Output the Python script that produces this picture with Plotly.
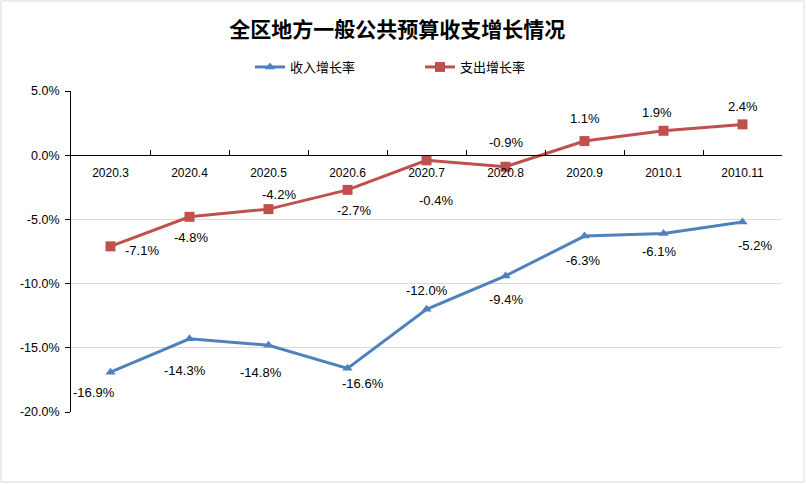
import plotly.graph_objects as go

categories = ["2020.3", "2020.4", "2020.5", "2020.6", "2020.7", "2020.8", "2020.9", "2010.1", "2010.11"]
income = [-16.9, -14.3, -14.8, -16.6, -12.0, -9.4, -6.3, -6.1, -5.2]
expense = [-7.1, -4.8, -4.2, -2.7, -0.4, -0.9, 1.1, 1.9, 2.4]
y_ticks = [5, 0, -5, -10, -15, -20]

# label offsets in pixels (dx right, dy down) – styling only
income_off = [(-17, 20), (-5, 32), (-8, 27), (15, 15), (0, -19), (0, 24), (-2, 24), (-5, 18), (12, 24)]
expense_off = [(31, 4), (1, 21), (10, -15), (6, 21), (9, 40), (0, -24), (0, -23), (-7, -18), (0, -18)]

W, H = 806, 484
L, R, T, B = 71, 24, 91, 72
pw, ph = W - L - R, H - T - B

def px_x(p):
    return (p - L) / pw

def px_y(p):
    return (H - B - p) / ph

label_font = dict(family="Liberation Sans, Arial, sans-serif", size=13, color="#000000")

fig = go.Figure()
fig.add_trace(go.Scatter(
    x=categories, y=income, name="收入增长率", mode="lines+markers",
    line=dict(color="#4F81BD", width=3),
    marker=dict(symbol="triangle-up", size=9, color="#4F81BD"),
    cliponaxis=False,
))
fig.add_trace(go.Scatter(
    x=categories, y=expense, name="支出增长率", mode="lines+markers",
    line=dict(color="#C0504D", width=3),
    marker=dict(symbol="square", size=10, color="#C0504D"),
    cliponaxis=False,
))

# category axis: annotation x given as the category's serial index
for series, offs in ((income, income_off), (expense, expense_off)):
    for i, (v, (dx, dy)) in enumerate(zip(series, offs)):
        fig.add_annotation(x=i, y=v, xref="x", yref="y", text=f"{v:.1f}%", showarrow=False,
                           xshift=dx, yshift=-dy, font=label_font,
                           xanchor="center", yanchor="middle")

fig.update_layout(
    width=W, height=H,
    margin=dict(l=L, r=R, t=T, b=B),
    paper_bgcolor="white", plot_bgcolor="white",
    title=dict(text="<b>全区地方一般公共预算收支增长情况</b>", x=0.493, xanchor="center",
               y=1 - 30 / H, yanchor="middle",
               font=dict(family="Noto Sans CJK SC", size=21, color="#000000")),
    legend=dict(orientation="h", x=px_x(250), xanchor="left", y=px_y(67), yanchor="middle",
                font=dict(family="Noto Sans CJK SC", size=13, color="#000000"),
                entrywidth=125, entrywidthmode="pixels", tracegroupgap=0),
    showlegend=True,
    xaxis=dict(
        type="category", range=[-0.5, 8.5], anchor="free", position=0.8,
        showline=True, linecolor="#000000", linewidth=1,
        ticks="inside", tickson="boundaries", ticklen=5, tickcolor="#000000",
        showgrid=False, zeroline=False, ticklabelstandoff=6,
        tickfont=dict(family="Liberation Sans, Arial, sans-serif", size=12, color="#000000"),
    ),
    yaxis=dict(
        range=[-20, 5], tickvals=y_ticks, ticktext=[f"{v:.1f}%" for v in y_ticks],
        showline=True, linecolor="#000000", linewidth=1,
        ticks="outside", ticklen=5, tickcolor="#000000", ticklabelstandoff=3,
        showgrid=True, gridcolor="#D9D9D9", gridwidth=1, zeroline=False,
        tickfont=dict(family="Liberation Sans, Arial, sans-serif", size=12.5, color="#000000"),
    ),
    shapes=[dict(type="rect", xref="paper", yref="paper",
                 x0=px_x(1), x1=px_x(804), y0=px_y(482), y1=px_y(1),
                 line=dict(color="#D9D9D9", width=1), fillcolor="rgba(0,0,0,0)", layer="below")],
)

fig.write_html("out.html", config={"displayModeBar": False},
               post_script="document.body.style.margin='0';")
